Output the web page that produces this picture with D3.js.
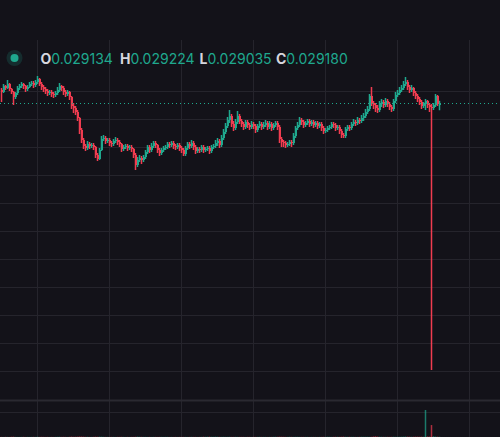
<!DOCTYPE html>
<html><head><meta charset="utf-8">
<script src="https://cdn.jsdelivr.net/npm/d3@7/dist/d3.min.js"></script>
<style>html,body{margin:0;padding:0;background:#131219;overflow:hidden}</style>
</head><body><svg id="c" width="500" height="437"></svg>
<script>
const opens=[
0.02944,0.02940,0.02952,0.02948,0.02956,0.02946,0.02940,0.02930,0.02938,0.02948,
0.02952,0.02956,0.02952,0.02946,0.02950,0.02956,0.02958,0.02954,0.02960,0.02966,
0.02956,0.02950,0.02946,0.02942,0.02938,0.02940,0.02936,0.02934,0.02938,0.02944,
0.02952,0.02948,0.02940,0.02936,0.02940,0.02930,0.02912,0.02908,0.02900,0.02888,
0.02864,0.02844,0.02832,0.02828,0.02836,0.02832,0.02834,0.02830,0.02814,0.02806,
0.02824,0.02846,0.02848,0.02842,0.02844,0.02838,0.02836,0.02842,0.02844,0.02840,
0.02836,0.02826,0.02830,0.02832,0.02828,0.02830,0.02826,0.02814,0.02794,0.02804,
0.02808,0.02804,0.02810,0.02820,0.02830,0.02824,0.02832,0.02838,0.02834,0.02824,
0.02818,0.02824,0.02828,0.02830,0.02836,0.02834,0.02838,0.02832,0.02830,0.02834,
0.02828,0.02824,0.02816,0.02828,0.02836,0.02832,0.02838,0.02830,0.02822,0.02826,
0.02824,0.02830,0.02824,0.02826,0.02828,0.02822,0.02830,0.02832,0.02838,0.02842,
0.02834,0.02848,0.02860,0.02872,0.02884,0.02892,0.02876,0.02868,0.02880,0.02892,
0.02882,0.02876,0.02870,0.02880,0.02874,0.02870,0.02876,0.02872,0.02864,0.02872,
0.02876,0.02870,0.02874,0.02878,0.02870,0.02876,0.02868,0.02874,0.02878,0.02870,
0.02846,0.02840,0.02838,0.02834,0.02836,0.02840,0.02838,0.02852,0.02868,0.02874,
0.02884,0.02880,0.02874,0.02878,0.02882,0.02876,0.02880,0.02874,0.02878,0.02872,
0.02876,0.02868,0.02862,0.02864,0.02868,0.02870,0.02876,0.02874,0.02868,0.02870,
0.02862,0.02854,0.02852,0.02866,0.02870,0.02868,0.02876,0.02880,0.02878,0.02884,
0.02882,0.02888,0.02892,0.02900,0.02906,0.02932,0.02918,0.02914,0.02908,0.02904,
0.02916,0.02920,0.02914,0.02922,0.02916,0.02910,0.02906,0.02922,0.02934,0.02938,
0.02944,0.02948,0.02956,0.02960,0.02950,0.02944,0.02948,0.02938,0.02932,0.02926,
0.02920,0.02912,0.02916,0.02922,0.02914,0.02910,0.02908,0.02914,0.02932,0.029134];
const highs=[
0.02948,0.02956,0.02954,0.02964,0.02958,0.02948,0.02942,0.02940,0.02952,0.02956,
0.02960,0.02958,0.02954,0.02954,0.02960,0.02962,0.02962,0.02964,0.02972,0.02968,
0.02960,0.02954,0.02950,0.02946,0.02944,0.02944,0.02940,0.02942,0.02950,0.02958,
0.02954,0.02952,0.02944,0.02944,0.02942,0.02932,0.02918,0.02912,0.02904,0.02890,
0.02868,0.02848,0.02836,0.02842,0.02840,0.02838,0.02838,0.02832,0.02818,0.02828,
0.02852,0.02854,0.02852,0.02848,0.02848,0.02842,0.02846,0.02850,0.02848,0.02844,
0.02838,0.02834,0.02836,0.02836,0.02834,0.02834,0.02828,0.02818,0.02810,0.02814,
0.02812,0.02814,0.02824,0.02834,0.02834,0.02838,0.02842,0.02842,0.02836,0.02828,
0.02828,0.02832,0.02834,0.02840,0.02840,0.02842,0.02842,0.02836,0.02838,0.02838,
0.02832,0.02828,0.02832,0.02840,0.02840,0.02844,0.02842,0.02834,0.02830,0.02830,
0.02834,0.02834,0.02830,0.02832,0.02832,0.02834,0.02836,0.02844,0.02848,0.02846,
0.02854,0.02866,0.02878,0.02890,0.02904,0.02896,0.02882,0.02886,0.02902,0.02896,
0.02886,0.02880,0.02884,0.02884,0.02878,0.02882,0.02880,0.02876,0.02876,0.02882,
0.02880,0.02880,0.02884,0.02882,0.02882,0.02880,0.02878,0.02882,0.02882,0.02874,
0.02850,0.02844,0.02842,0.02840,0.02844,0.02844,0.02858,0.02872,0.02880,0.02890,
0.02888,0.02884,0.02882,0.02886,0.02886,0.02884,0.02884,0.02882,0.02882,0.02880,
0.02880,0.02872,0.02868,0.02872,0.02874,0.02880,0.02880,0.02878,0.02874,0.02874,
0.02866,0.02858,0.02870,0.02874,0.02874,0.02880,0.02886,0.02884,0.02890,0.02888,
0.02894,0.02898,0.02906,0.02912,0.02936,0.02950,0.02922,0.02918,0.02914,0.02922,
0.02926,0.02924,0.02928,0.02926,0.02920,0.02914,0.02926,0.02940,0.02944,0.02950,
0.02954,0.02962,0.02970,0.02964,0.02954,0.02954,0.02950,0.02942,0.02936,0.02930,
0.02924,0.02920,0.02926,0.02924,0.02918,0.02916,0.02918,0.02936,0.02934,0.029224];
const lows=[
0.02920,0.02938,0.02944,0.02946,0.02942,0.02936,0.02914,0.02926,0.02934,0.02944,
0.02948,0.02946,0.02940,0.02942,0.02948,0.02952,0.02948,0.02950,0.02956,0.02952,
0.02944,0.02940,0.02936,0.02932,0.02934,0.02930,0.02928,0.02930,0.02934,0.02940,
0.02942,0.02934,0.02930,0.02932,0.02924,0.02906,0.02898,0.02894,0.02882,0.02856,
0.02838,0.02826,0.02822,0.02824,0.02826,0.02828,0.02824,0.02808,0.02802,0.02804,
0.02822,0.02842,0.02836,0.02838,0.02832,0.02830,0.02832,0.02838,0.02834,0.02830,
0.02820,0.02822,0.02826,0.02822,0.02824,0.02820,0.02808,0.02784,0.02790,0.02800,
0.02796,0.02800,0.02806,0.02816,0.02818,0.02820,0.02828,0.02828,0.02818,0.02812,
0.02814,0.02820,0.02824,0.02826,0.02828,0.02830,0.02826,0.02824,0.02826,0.02822,
0.02818,0.02812,0.02812,0.02824,0.02826,0.02828,0.02824,0.02816,0.02818,0.02818,
0.02820,0.02818,0.02820,0.02822,0.02816,0.02818,0.02826,0.02828,0.02832,0.02828,
0.02830,0.02844,0.02856,0.02868,0.02878,0.02870,0.02862,0.02864,0.02876,0.02876,
0.02870,0.02864,0.02866,0.02868,0.02864,0.02866,0.02866,0.02858,0.02860,0.02868,
0.02864,0.02866,0.02870,0.02864,0.02866,0.02862,0.02864,0.02870,0.02864,0.02838,
0.02830,0.02830,0.02828,0.02830,0.02832,0.02830,0.02834,0.02848,0.02864,0.02870,
0.02874,0.02868,0.02870,0.02874,0.02870,0.02872,0.02868,0.02870,0.02866,0.02868,
0.02862,0.02856,0.02858,0.02860,0.02864,0.02866,0.02868,0.02862,0.02864,0.02856,
0.02848,0.02848,0.02848,0.02862,0.02862,0.02864,0.02872,0.02872,0.02874,0.02876,
0.02878,0.02882,0.02888,0.02896,0.02902,0.02912,0.02906,0.02900,0.02898,0.02900,
0.02910,0.02908,0.02910,0.02910,0.02904,0.02900,0.02902,0.02918,0.02930,0.02934,
0.02940,0.02944,0.02952,0.02944,0.02938,0.02940,0.02932,0.02926,0.02920,0.02914,
0.02906,0.02908,0.02904,0.02908,0.02900,0.02384,0.02904,0.02910,0.02912,0.029035];
const closes=[
0.02940,0.02952,0.02948,0.02956,0.02946,0.02940,0.02930,0.02938,0.02948,0.02952,
0.02956,0.02952,0.02946,0.02950,0.02956,0.02958,0.02954,0.02960,0.02966,0.02956,
0.02950,0.02946,0.02942,0.02938,0.02940,0.02936,0.02934,0.02938,0.02944,0.02952,
0.02948,0.02940,0.02936,0.02940,0.02930,0.02912,0.02908,0.02900,0.02888,0.02864,
0.02844,0.02832,0.02828,0.02836,0.02832,0.02834,0.02830,0.02814,0.02806,0.02824,
0.02846,0.02848,0.02842,0.02844,0.02838,0.02836,0.02842,0.02844,0.02840,0.02836,
0.02826,0.02830,0.02832,0.02828,0.02830,0.02826,0.02814,0.02794,0.02804,0.02808,
0.02804,0.02810,0.02820,0.02830,0.02824,0.02832,0.02838,0.02834,0.02824,0.02818,
0.02824,0.02828,0.02830,0.02836,0.02834,0.02838,0.02832,0.02830,0.02834,0.02828,
0.02824,0.02816,0.02828,0.02836,0.02832,0.02838,0.02830,0.02822,0.02826,0.02824,
0.02830,0.02824,0.02826,0.02828,0.02822,0.02830,0.02832,0.02838,0.02842,0.02834,
0.02848,0.02860,0.02872,0.02884,0.02892,0.02876,0.02868,0.02880,0.02892,0.02882,
0.02876,0.02870,0.02880,0.02874,0.02870,0.02876,0.02872,0.02864,0.02872,0.02876,
0.02870,0.02874,0.02878,0.02870,0.02876,0.02868,0.02874,0.02878,0.02870,0.02846,
0.02840,0.02838,0.02834,0.02836,0.02840,0.02838,0.02852,0.02868,0.02874,0.02884,
0.02880,0.02874,0.02878,0.02882,0.02876,0.02880,0.02874,0.02878,0.02872,0.02876,
0.02868,0.02862,0.02864,0.02868,0.02870,0.02876,0.02874,0.02868,0.02870,0.02862,
0.02854,0.02852,0.02866,0.02870,0.02868,0.02876,0.02880,0.02878,0.02884,0.02882,
0.02888,0.02892,0.02900,0.02906,0.02932,0.02918,0.02914,0.02908,0.02904,0.02916,
0.02920,0.02914,0.02922,0.02916,0.02910,0.02906,0.02922,0.02934,0.02938,0.02944,
0.02948,0.02956,0.02960,0.02950,0.02944,0.02948,0.02938,0.02932,0.02926,0.02920,
0.02912,0.02916,0.02922,0.02914,0.02910,0.02908,0.02914,0.02932,0.02916,0.029180];
const volumes=[
3,2,4,3,2,5,6,3,2,2,3,4,2,3,2,3,4,3,5,3,
4,3,2,3,2,3,2,3,4,5,3,4,3,2,4,7,4,5,6,9,
8,6,4,5,3,3,4,6,5,7,6,4,3,3,2,3,3,2,3,3,
4,3,2,3,2,3,3,5,7,5,4,3,3,2,3,2,3,3,2,3,
3,2,3,3,2,3,2,3,2,3,2,3,3,2,3,4,3,3,2,3,
4,6,5,6,7,5,4,6,5,4,3,4,3,3,4,3,3,4,3,3,
3,3,2,3,3,2,3,3,3,4,3,3,3,2,3,3,4,5,4,6,
5,4,3,3,5,4,3,4,4,3,3,3,3,3,2,3,3,3,2,3,
3,4,3,5,4,3,4,5,5,4,5,7,5,4,5,4,4,3,3,4,
5,4,4,4,3,4,9,12,8,6,5,4,4,4,3,4,5,4,3,4,
5,6,8,7,6,5,5,6,6,5,6,5,520,9,8,230,12,8,6,5];
const priceGrid=[0.02942,0.02886,0.02830,0.02774,0.02718,0.02662,0.02606,0.02550,0.02494,0.02438,0.02382];
const timeGridIdx=[18,54,90,126,162,198,234];
const volumeGrid=[480];
const legendLabels=["O","H","L","C"];

const W=500,H=437;
const UP="#1fa88e", DOWN="#f03c50", GRID="#25242c", BG="#131219";
const svg=d3.select("#c");
svg.append("rect").attr("width",W).attr("height",H).attr("fill",BG);

const n=closes.length;
const x=d3.scaleLinear().domain([0,219]).range([1,439]);
const y=d3.scaleLinear().domain([0.02384,0.02972]).range([370,76]);
const vy=d3.scaleLinear().domain([0,520]).range([437,410]);

// grid
const g=svg.append("g").attr("shape-rendering","crispEdges");
g.selectAll(".hg").data(priceGrid).join("line")
  .attr("x1",0).attr("x2",W)
  .attr("y1",d=>Math.round(y(d))+0.5).attr("y2",d=>Math.round(y(d))+0.5)
  .attr("stroke",GRID).attr("stroke-width",1);
g.selectAll(".vgl").data(volumeGrid).join("line")
  .attr("x1",0).attr("x2",W)
  .attr("y1",d=>Math.round(vy(d))+0.5).attr("y2",d=>Math.round(vy(d))+0.5)
  .attr("stroke",GRID).attr("stroke-width",1);
g.selectAll(".vg").data(timeGridIdx).join("line")
  .attr("x1",d=>Math.round(x(d))+0.5).attr("x2",d=>Math.round(x(d))+0.5)
  .attr("y1",40).attr("y2",H)
  .attr("stroke",GRID).attr("stroke-width",1);
// pane separator
svg.append("rect").attr("x",0).attr("width",W).attr("y",399.5).attr("height",2)
  .attr("fill","#2a2931");

const idx=d3.range(n);
const isUp=i=>closes[i]>=opens[i];

// volume
svg.append("g").selectAll("rect").data(idx).join("rect")
  .attr("x",i=>x(i)-0.25).attr("width",1.5)
  .attr("y",i=>vy(volumes[i])).attr("height",i=>vy(0)-vy(volumes[i]))
  .attr("fill",i=>isUp(i)?UP:DOWN).attr("fill-opacity",0.7);

// wicks
const cg=svg.append("g");
cg.selectAll(".w").data(idx).join("rect")
  .attr("x",i=>x(i)-0.25).attr("width",1.5)
  .attr("y",i=>y(highs[i])).attr("height",i=>y(lows[i])-y(highs[i]))
  .attr("fill",i=>isUp(i)?UP:DOWN);
// bodies
cg.selectAll(".b").data(idx).join("rect").attr("shape-rendering","crispEdges")
  .attr("x",i=>x(i)).attr("width",2)
  .attr("y",i=>y(Math.max(opens[i],closes[i])))
  .attr("height",i=>Math.max(1,Math.abs(y(opens[i])-y(closes[i]))))
  .attr("fill",i=>isUp(i)?UP:DOWN);

// last price dotted line
const lp=Math.round(y(closes[n-1]))+0.5;
svg.append("line").attr("x1",0).attr("x2",W).attr("y1",lp).attr("y2",lp)
  .attr("stroke",UP).attr("stroke-width",1).attr("stroke-dasharray","1,3");

// legend
svg.append("circle").attr("cx",14.5).attr("cy",58).attr("r",8).attr("fill",UP).attr("fill-opacity",0.18);
svg.append("circle").attr("cx",14.5).attr("cy",58).attr("r",4).attr("fill",UP);
const fmt=d3.format(".6f");
const last=[opens[n-1],highs[n-1],lows[n-1],closes[n-1]];
const lx=[40.5,120,199.5,276];
legendLabels.forEach((lab,k)=>{
  const t=svg.append("text").attr("x",lx[k]).attr("y",63.5)
    .attr("font-family","Inter, 'Noto Sans', sans-serif").attr("font-size",14);
  t.append("tspan").attr("font-weight",700).attr("fill","#d6d6de").text(lab);
  t.append("tspan").attr("fill",UP).text(fmt(last[k]));
});
</script></body></html>
